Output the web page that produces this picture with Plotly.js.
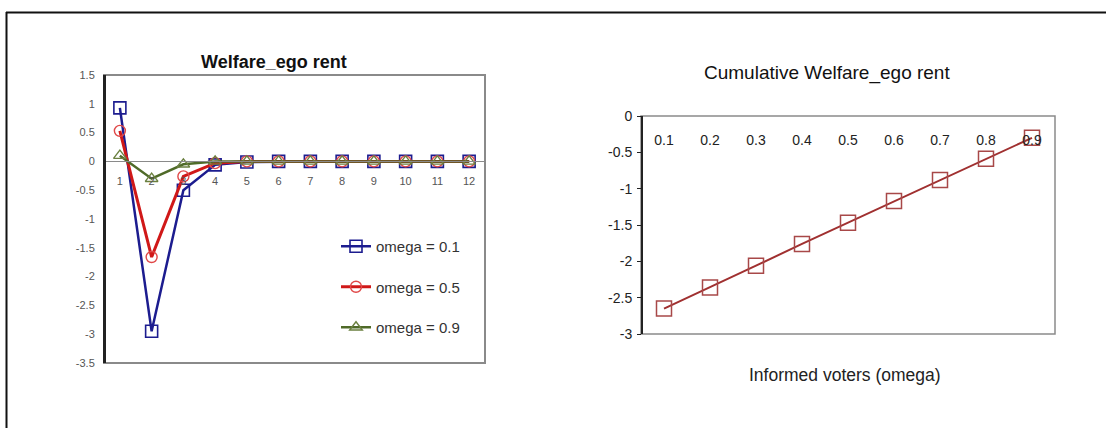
<!DOCTYPE html>
<html>
<head>
<meta charset="utf-8">
<script src="https://cdn.plot.ly/plotly-3.0.1.min.js"></script>
<style>
  html, body { margin: 0; padding: 0; background: #ffffff; }
  #chart { width: 1106px; height: 428px; }
</style>
</head>
<body>
<div id="chart"></div>
<script>
// Period-by-period welfare (ego rent) for three shares of informed voters
const periods = [1, 2, 3, 4, 5, 6, 7, 8, 9, 10, 11, 12];
const welfareOmega01 = [0.93, -2.95, -0.50, -0.06, -0.01, 0, 0, 0, 0, 0, 0, 0];
const welfareOmega05 = [0.53, -1.66, -0.26, -0.03, 0, 0, 0, 0, 0, 0, 0, 0];
const welfareOmega09 = [0.10, -0.30, -0.05, 0, 0, 0, 0, 0, 0, 0, 0, 0];
const seriesNames = ['omega = 0.1', 'omega = 0.5', 'omega = 0.9'];

// Cumulative welfare against the share of informed voters
const omegaLevels = ['0.1', '0.2', '0.3', '0.4', '0.5', '0.6', '0.7', '0.8', '0.9'];
const cumulativeWelfare = [-2.65, -2.36, -2.06, -1.76, -1.47, -1.17, -0.88, -0.59, -0.30];

const W = 1106, H = 428;
const px = v => v / W;           // horizontal pixel -> paper
const py = v => 1 - v / H;       // vertical pixel (from top) -> paper

// Panel placement
const leftDomX = [px(104), px(485)], leftDomY = [py(363), py(75)];
const rightDomX = [px(641), px(1055)], rightDomY = [py(334), py(116)];
const leftRange = [-3.5, 1.5];
// x axis of the left panel crosses at y = 0
const leftZeroPos = leftDomY[0] + (0 - leftRange[0]) / (leftRange[1] - leftRange[0]) * (leftDomY[1] - leftDomY[0]);

const font = 'Liberation Sans, Arial, sans-serif';

const traces = [
  {
    x: periods, y: welfareOmega01, name: seriesNames[0], type: 'scatter', mode: 'lines+markers',
    xaxis: 'x', yaxis: 'y', legendgroup: 'a',
    line: { color: '#1c1c8f', width: 2.5 },
    marker: { symbol: 'square-open', size: 12, color: '#1c1c8f', line: { width: 1.6 } }
  },
  {
    x: periods, y: welfareOmega05, name: seriesNames[1], type: 'scatter', mode: 'lines+markers',
    xaxis: 'x', yaxis: 'y', legendgroup: 'b',
    line: { color: '#d01818', width: 3 },
    marker: { symbol: 'circle-open', size: 11, color: '#e04848', line: { width: 1.4 } }
  },
  {
    x: periods, y: welfareOmega09, name: seriesNames[2], type: 'scatter', mode: 'lines+markers',
    xaxis: 'x', yaxis: 'y', legendgroup: 'c',
    line: { color: '#4f6a28', width: 2.5 },
    marker: { symbol: 'triangle-up-open', size: 11, color: '#6b8040', line: { width: 1.4 } }
  },
  {
    x: omegaLevels, y: cumulativeWelfare, name: 'Cumulative', type: 'scatter', mode: 'lines+markers',
    xaxis: 'x2', yaxis: 'y2', showlegend: false,
    line: { color: '#a03030', width: 2 },
    marker: { symbol: 'square-open', size: 15, color: '#a84848', line: { width: 1.5 } }
  }
];

const layout = {
  width: W, height: H,
  margin: { l: 0, r: 0, t: 0, b: 0 },
  paper_bgcolor: '#ffffff',
  plot_bgcolor: 'rgba(0,0,0,0)',
  font: { family: font, color: '#333333' },
  showlegend: true,
  legend: {
    x: px(336), y: py(230), xanchor: 'left', yanchor: 'top',
    traceorder: 'grouped', tracegroupgap: 18,
    bgcolor: 'rgba(0,0,0,0)',
    font: { family: font, size: 15, color: '#333333' }
  },
  xaxis: {
    domain: leftDomX, anchor: 'free', position: leftZeroPos,
    range: [0.5, 12.5], tickvals: periods, ticktext: periods.map(String),
    showgrid: false, zeroline: false, showline: true, linecolor: '#8a8a8a', linewidth: 1,
    ticks: '', ticklabelstandoff: 9,
    tickfont: { family: font, size: 11, color: '#555555' }
  },
  yaxis: {
    domain: leftDomY, anchor: 'free', position: leftDomX[0],
    range: leftRange, tickvals: [1.5, 1, 0.5, 0, -0.5, -1, -1.5, -2, -2.5, -3, -3.5],
    ticktext: ['1.5', '1', '0.5', '0', '-0.5', '-1', '-1.5', '-2', '-2.5', '-3', '-3.5'],
    showgrid: false, zeroline: false, showline: true, linecolor: '#222222', linewidth: 2.5,
    ticks: '', ticklabelstandoff: 6,
    tickfont: { family: font, size: 11, color: '#555555' }
  },
  xaxis2: {
    domain: rightDomX, anchor: 'free', position: rightDomY[1], side: 'bottom',
    type: 'category', range: [-0.5, 8.5],
    showgrid: false, zeroline: false, showline: false,
    ticks: '', ticklabelstandoff: 14,
    tickfont: { family: font, size: 14, color: '#222222' }
  },
  yaxis2: {
    domain: rightDomY, anchor: 'free', position: rightDomX[0],
    range: [-3, 0],
    tickvals: [0, -0.5, -1, -1.5, -2, -2.5, -3],
    ticktext: ['0', '-0.5', '-1', '-1.5', '-2', '-2.5', '-3'],
    showgrid: false, zeroline: false, showline: true, linecolor: '#222222', linewidth: 1.5,
    ticks: 'outside', ticklen: 4, tickcolor: '#222222', ticklabelstandoff: 2,
    tickfont: { family: font, size: 14, color: '#222222' }
  },
  shapes: [
    // outer frame
    { type: 'line', xref: 'paper', yref: 'paper', x0: px(6), x1: 1, y0: py(12.5), y1: py(12.5),
      line: { color: '#111111', width: 2 } },
    { type: 'line', xref: 'paper', yref: 'paper', x0: px(6.5), x1: px(6.5), y0: py(12), y1: 0,
      line: { color: '#111111', width: 2 } },
    // plot-area borders
    { type: 'rect', xref: 'paper', yref: 'paper', layer: 'below',
      x0: leftDomX[0], x1: leftDomX[1], y0: leftDomY[0], y1: leftDomY[1],
      line: { color: '#8a8a8a', width: 2 } },
    { type: 'rect', xref: 'paper', yref: 'paper', layer: 'below',
      x0: rightDomX[0], x1: rightDomX[1], y0: rightDomY[0], y1: rightDomY[1],
      line: { color: '#8a8a8a', width: 1.5 } }
  ],
  annotations: [
    { text: '<b>Welfare_ego rent</b>', xref: 'paper', yref: 'paper', x: px(274), y: py(62),
      xanchor: 'center', yanchor: 'middle',
      showarrow: false, font: { family: font, size: 18, color: '#111111' } },
    { text: 'Cumulative Welfare_ego rent', xref: 'paper', yref: 'paper', x: px(827), y: py(73),
      xanchor: 'center', yanchor: 'middle',
      showarrow: false, font: { family: font, size: 19, color: '#111111' } },
    { text: 'Informed voters (omega)', xref: 'paper', yref: 'paper', x: px(845), y: py(375),
      xanchor: 'center', yanchor: 'middle',
      showarrow: false, font: { family: font, size: 17.5, color: '#222222' } }
  ]
};

Plotly.newPlot('chart', traces, layout, { staticPlot: true, displayModeBar: false });
</script>
</body>
</html>
